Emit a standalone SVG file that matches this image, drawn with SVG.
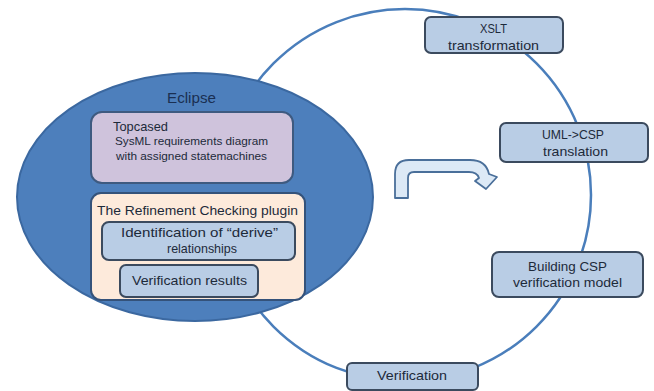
<svg xmlns="http://www.w3.org/2000/svg" width="654" height="391" viewBox="0 0 654 391">
<style>
text{font-family:"Liberation Sans",Arial,sans-serif;fill:#1d2a3a;font-size:13px}
.c{text-anchor:middle}
.box{fill:#b9cde5;stroke:#3b4a5e;stroke-width:2}
.conn{fill:none;stroke:#4a7ebb;stroke-width:2.5}
</style>
<rect width="654" height="391" fill="#ffffff"/>
<g id="connectors">
<circle class="conn" cx="405" cy="195" r="186"/>
</g>
<g id="eclipse">
<ellipse cx="195" cy="197" rx="178" ry="124" fill="#4d7fbc" stroke="#3b68a0" stroke-width="2"/>
<text class="c" x="191.5" y="103" style="font-size:15px;fill:#1a2f52" textLength="49" lengthAdjust="spacingAndGlyphs">Eclipse</text>
</g>
<g id="topcased">
<rect x="91" y="112" width="202" height="71" rx="11" fill="#cfc3dc" stroke="#3e5a80" stroke-width="2"/>
<text x="113" y="131" textLength="55" lengthAdjust="spacingAndGlyphs" style="font-size:13px">Topcased</text>
<text x="115" y="145" textLength="153" lengthAdjust="spacingAndGlyphs" style="font-size:11.5px">SysML requirements diagram</text>
<text x="116" y="160" textLength="151" lengthAdjust="spacingAndGlyphs" style="font-size:11.5px">with assigned statemachines</text>
</g>
<g id="plugin">
<rect x="91" y="193" width="214" height="107" rx="10" fill="#fdeadb" stroke="#34527a" stroke-width="2"/>
<text x="97" y="215" textLength="201" lengthAdjust="spacingAndGlyphs" style="font-size:13.5px">The Refinement Checking plugin</text>
</g>
<g id="identification">
<rect class="box" x="102" y="222" width="193" height="38" rx="7"/>
<text class="c" x="199.5" y="237" textLength="157" lengthAdjust="spacingAndGlyphs">Identification of “derive”</text>
<text class="c" x="202" y="252.5" textLength="70" lengthAdjust="spacingAndGlyphs">relationships</text>
</g>
<g id="results">
<rect class="box" x="120" y="265" width="138" height="32" rx="6"/>
<text class="c" x="189.5" y="285" textLength="115" lengthAdjust="spacingAndGlyphs">Verification results</text>
</g>
<g id="xslt">
<rect class="box" x="425" y="17" width="138" height="36" rx="6"/>
<text class="c" x="493.5" y="33" textLength="27" lengthAdjust="spacingAndGlyphs">XSLT</text>
<text class="c" x="493.5" y="49.5" textLength="91" lengthAdjust="spacingAndGlyphs">transformation</text>
</g>
<g id="uml">
<rect class="box" x="500" y="123" width="148" height="39" rx="6"/>
<text class="c" x="573" y="138.5" textLength="62" lengthAdjust="spacingAndGlyphs">UML-&gt;CSP</text>
<text class="c" x="575.5" y="155.5" textLength="65" lengthAdjust="spacingAndGlyphs">translation</text>
</g>
<g id="building">
<rect class="box" x="492" y="252" width="151" height="45" rx="7"/>
<text class="c" x="567.5" y="271" textLength="79" lengthAdjust="spacingAndGlyphs">Building CSP</text>
<text class="c" x="567.5" y="287" textLength="109" lengthAdjust="spacingAndGlyphs">verification model</text>
</g>
<g id="verification">
<rect class="box" x="347" y="363" width="131" height="27" rx="5"/>
<text class="c" x="412" y="379.5" textLength="70" lengthAdjust="spacingAndGlyphs">Verification</text>
</g>
<g id="bent-arrow">
<path d="M395,198 L395,174 Q395,160 409,160 L470,160 Q486,160 489,174 L497,177 L486,189 L475,181 L479,178 Q477,172 469,172 L414,172 Q408,172 408,178 L408,198 Z" fill="#dce9f6" stroke="#4a6f9a" stroke-width="1.8" stroke-linejoin="round"/>
</g>
</svg>
